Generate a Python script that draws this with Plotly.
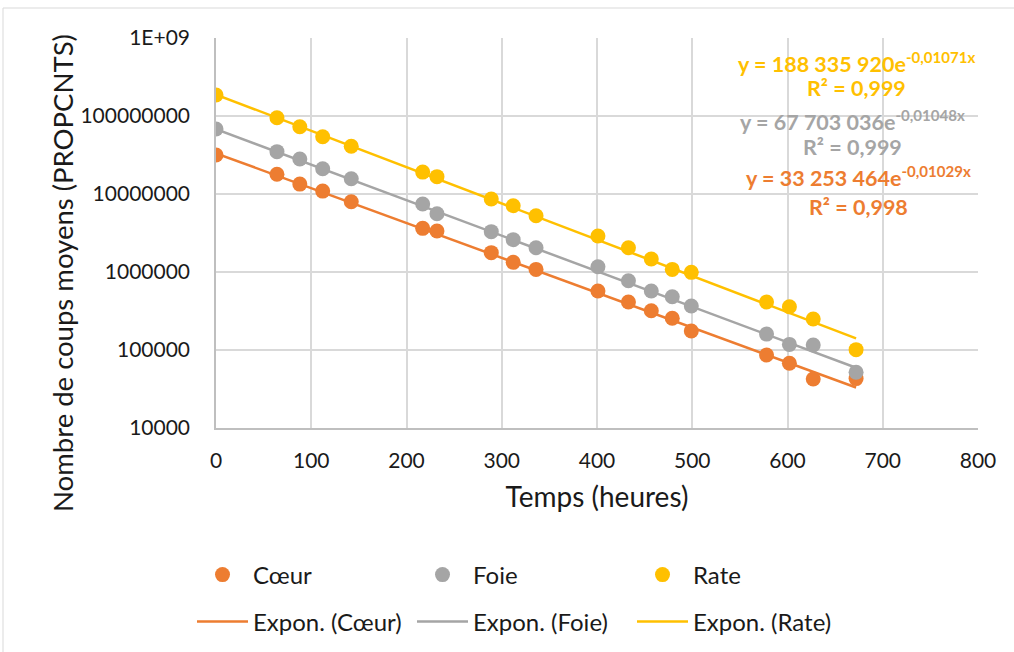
import plotly.graph_objects as go
import numpy as np

# ---- data ----
hours = [0, 64, 88, 112, 142, 217, 232, 289, 312, 336, 401, 433, 457, 479, 499, 578, 602, 627, 672]
coeur = [3.16e7, 1.79e7, 1.34e7, 1.09e7, 7.97e6, 3.63e6, 3.36e6, 1.77e6, 1.33e6, 1.08e6,
         5.71e5, 4.12e5, 3.19e5, 2.55e5, 1.75e5, 8.63e4, 6.75e4, 4.25e4, 4.3e4]
foie = [6.81e7, 3.49e7, 2.81e7, 2.11e7, 1.57e7, 7.45e6, 5.59e6, 3.29e6, 2.6e6, 2.05e6,
        1.17e6, 7.73e5, 5.71e5, 4.82e5, 3.66e5, 1.6e5, 1.18e5, 1.16e5, 5.18e4]
rate = [1.86e8, 9.51e7, 7.29e7, 5.43e7, 4.09e7, 1.91e7, 1.67e7, 8.63e6, 7.08e6, 5.27e6,
        2.9e6, 2.05e6, 1.47e6, 1.08e6, 9.9e5, 4.12e5, 3.59e5, 2.5e5, 1.01e5]

# trendline coefficients shown on the chart (y = a * e^(b x)), R²
fit_coeur = (33253464, -0.01029, "0,998")
fit_foie = (67703036, -0.01048, "0,999")
fit_rate = (188335920, -0.01071, "0,999")

y_tickvals = [1e4, 1e5, 1e6, 1e7, 1e8, 1e9]
y_ticktext = ["10000", "100000", "1000000", "10000000", "100000000", "1E+09"]

ORANGE = "#ED7D31"
GRAY = "#A5A5A5"
YELLOW = "#FFC000"
FONT = "Lato"
TXT = "#1a1a1a"

fig = go.Figure()

series = [("Cœur", coeur, ORANGE, fit_coeur),
          ("Foie", foie, GRAY, fit_foie),
          ("Rate", rate, YELLOW, fit_rate)]

for name, vals, col, fit in series:
    a, b, _ = fit
    xs = np.array([min(hours), max(hours)], dtype=float)
    fig.add_trace(go.Scatter(x=xs, y=a * np.exp(b * xs), mode="lines",
                             line=dict(color=col, width=2.5),
                             name=f"Expon. ({name})", legend="legend2",
                             hoverinfo="skip"))

for name, vals, col, fit in series:
    fig.add_trace(go.Scatter(x=hours, y=vals, mode="markers",
                             marker=dict(color=col, size=15),
                             name=name, legend="legend"))


def fmt_num(v):
    return f"{int(v):,}".replace(",", " ")


def fmt_b(b):
    return ("-" if b < 0 else "") + f"{abs(b):.5f}".replace(".", ",")


W, H = 1014, 652
L, R, T, B = 216, 36, 38, 224
pw, ph = W - L - R, H - T - B


def px(xp):
    return (xp - L) / pw


def py(yp):
    return (H - B - yp) / ph


eq_pos = [(fit_rate, YELLOW, 856, 62, 88), (fit_foie, GRAY, 852, 120, 147),
          (fit_coeur, ORANGE, 858, 177, 207)]
ann = []
for (a, b, r2), col, cx, y1, y2 in eq_pos:
    ann.append(dict(xref="paper", yref="paper", x=px(cx), y=py(y1),
                    xanchor="center", yanchor="middle", showarrow=False,
                    text=f"<b>y = {fmt_num(a)}e<sup>{fmt_b(b)}x</sup></b>",
                    font=dict(family=FONT, size=21.5, color=col)))
    ann.append(dict(xref="paper", yref="paper", x=px(cx), y=py(y2),
                    xanchor="center", yanchor="middle", showarrow=False,
                    text=f"<b>R² = {r2}</b>",
                    font=dict(family=FONT, size=21.5, color=col)))

ann.append(dict(xref="paper", yref="paper", x=px(62), y=py(273),
                xanchor="center", yanchor="middle", showarrow=False, textangle=-90,
                text="Nombre de coups moyens (PROPCNTS)",
                font=dict(family=FONT, size=27.5, color=TXT)))

shapes = [
    dict(type="line", xref="paper", yref="paper", x0=px(3), x1=px(W + 5), y0=py(8), y1=py(8),
         line=dict(color="#d9d9d9", width=1)),
    dict(type="line", xref="paper", yref="paper", x0=px(3), x1=px(3), y0=py(8), y1=py(H + 5),
         line=dict(color="#d9d9d9", width=1)),
]

leg_common = dict(orientation="h", xanchor="left", yanchor="middle",
                  itemwidth=51, entrywidth=154,
                  font=dict(family=FONT, size=24, color=TXT),
                  bgcolor="rgba(0,0,0,0)")

fig.update_layout(
    width=W, height=H,
    margin=dict(l=L, r=R, t=T, b=B, autoexpand=False),
    paper_bgcolor="white", plot_bgcolor="white",
    font=dict(family=FONT, color=TXT),
    annotations=ann, shapes=shapes,
    legend=dict(x=px(192), y=py(575), **leg_common),
    legend2=dict(x=px(192), y=py(622), **leg_common),
    xaxis=dict(range=[0, 800], dtick=100, tick0=0, showgrid=True, gridcolor="#d9d9d9",
               gridwidth=1.5, showline=True, linecolor="#bfbfbf", linewidth=1.5,
               zeroline=False, ticks="", ticklabelstandoff=13,
               tickfont=dict(family=FONT, size=21, color=TXT),
               title=dict(text="Temps (heures)", standoff=16,
                          font=dict(family=FONT, size=28, color=TXT))),
    yaxis=dict(type="log", range=[4, 9], tickvals=y_tickvals, ticktext=y_ticktext,
               showgrid=True, gridcolor="#d9d9d9", gridwidth=1.5, showline=True,
               linecolor="#bfbfbf", linewidth=1.5, zeroline=False, ticks="",
               ticklabelstandoff=20, tickfont=dict(family=FONT, size=21, color=TXT)),
)

fig.write_html("out.html", config={"displayModeBar": False},
               post_script="document.body.style.margin='0px';")
